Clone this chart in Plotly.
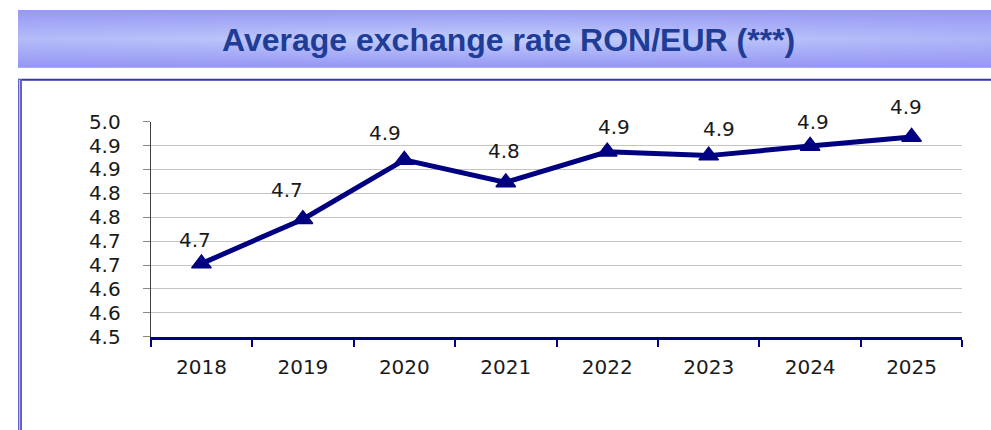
import plotly.graph_objects as go

# ---- data ----
years = ["2018", "2019", "2020", "2021", "2022", "2023", "2024", "2025"]
rates = [4.653, 4.746, 4.870, 4.823, 4.887, 4.879, 4.899, 4.918]
rate_labels = ["4.7", "4.7", "4.9", "4.8", "4.9", "4.9", "4.9", "4.9"]
ytick_vals = [4.50, 4.55, 4.60, 4.65, 4.70, 4.75, 4.80, 4.85, 4.90, 4.95]
ytick_text = ["4.5", "4.6", "4.6", "4.7", "4.7", "4.8", "4.8", "4.9", "4.9", "5.0"]
title_text = "Average exchange rate RON/EUR (***)"

# ---- style (label offsets in px) ----
label_dx = [-6, -16, -19, -2, 7, 10, 3, -6]
label_dy = [24, 29, 27, 31, 25, 27, 24, 30]

W, H = 991, 430
NAVY = "#000080"
FONT = "DejaVu Sans"

fig = go.Figure()

fig.add_trace(go.Scatter(
    x=years, y=rates, mode="lines+markers",
    line=dict(color=NAVY, width=5),
    marker=dict(symbol="triangle-up", size=17, color=NAVY, line=dict(color=NAVY, width=1.5)),
    hoverinfo="skip", showlegend=False,
))

for i, (v, t, dx, dy) in enumerate(zip(rates, rate_labels, label_dx, label_dy)):
    fig.add_annotation(x=i, y=v, xref="x", yref="y", text=t, showarrow=False,
                       xshift=dx, yshift=dy,
                       font=dict(family=FONT, size=20, color="#1a1a1a"))

# banner (overlay pixel axes)
bx = [18, W, W, 18, 18]
by = [10, 10, 67.7, 67.7, 10]
fig.add_trace(go.Scatter(
    x=bx, y=by, xaxis="x2", yaxis="y2", mode="lines", line=dict(width=0),
    fill="toself",
    fillgradient=dict(type="vertical",
                      colorscale=[[0, "#9595f4"], [0.5, "#c3cffa"], [1, "#9898f5"]]),
    hoverinfo="skip", showlegend=False,
))
fig.add_trace(go.Scatter(
    x=bx, y=by, xaxis="x2", yaxis="y2", mode="lines", line=dict(width=0),
    fill="toself",
    fillgradient=dict(type="horizontal",
                      colorscale=[[0, "rgba(150,150,245,0.35)"], [0.5, "rgba(150,150,245,0)"],
                                  [1, "rgba(150,150,245,0.45)"]]),
    hoverinfo="skip", showlegend=False,
))

fig.add_annotation(xref="x2", yref="y2", x=508, y=40, text="<b>" + title_text + "</b>",
                   showarrow=False, font=dict(family="Liberation Sans", size=32, color="#1f3c96"))

# frame lines
fig.add_shape(type="line", xref="x2", yref="y2", x0=18, x1=W, y0=79.8, y1=79.8,
              line=dict(color="#3434a8", width=2))
fig.add_shape(type="rect", xref="x2", yref="y2", x0=18, x1=22, y0=79, y1=H,
              fillcolor="#6262c8", line=dict(width=0))
fig.add_shape(type="line", xref="x2", yref="y2", x0=19.5, x1=19.5, y0=80, y1=H,
              line=dict(color="#c4c4f2", width=1))

fig.update_layout(
    width=W, height=H,
    margin=dict(l=0, r=0, t=0, b=0, pad=0),
    paper_bgcolor="white", plot_bgcolor="rgba(0,0,0,0)",
    showlegend=False,
    xaxis=dict(
        type="category", categoryorder="array", categoryarray=years,
        range=[-0.5, 7.5], domain=[150.7 / W, 962.3 / W], automargin=False,
        tickson="boundaries", ticks="outside", ticklen=7, tickwidth=2, tickcolor=NAVY,
        showline=True, linecolor=NAVY, linewidth=3, showgrid=False,
        tickfont=dict(family=FONT, size=20, color="#1a1a1a"),
        ticklabelstandoff=10, fixedrange=True,
    ),
    yaxis=dict(
        range=[4.5, 4.95], domain=[1 - 336.7 / H, 1 - 121.7 / H], automargin=False,
        tickvals=ytick_vals, ticktext=ytick_text,
        ticks="outside", ticklen=7, tickwidth=1, tickcolor="#888888",
        showline=True, linecolor="#404040", linewidth=1,
        showgrid=True, gridcolor="#c4c4c4", gridwidth=1, zeroline=False,
        tickfont=dict(family=FONT, size=20, color="#1a1a1a"),
        ticklabelstandoff=18, fixedrange=True,
    ),
    xaxis2=dict(domain=[0, 1], range=[0, W], visible=False, fixedrange=True, automargin=False),
    yaxis2=dict(domain=[0, 1], range=[H, 0], visible=False, fixedrange=True, automargin=False),
)

fig.write_html("out.html", config={"displayModeBar": False},
               post_script="document.body.style.margin='0';document.body.style.overflow='hidden';")
